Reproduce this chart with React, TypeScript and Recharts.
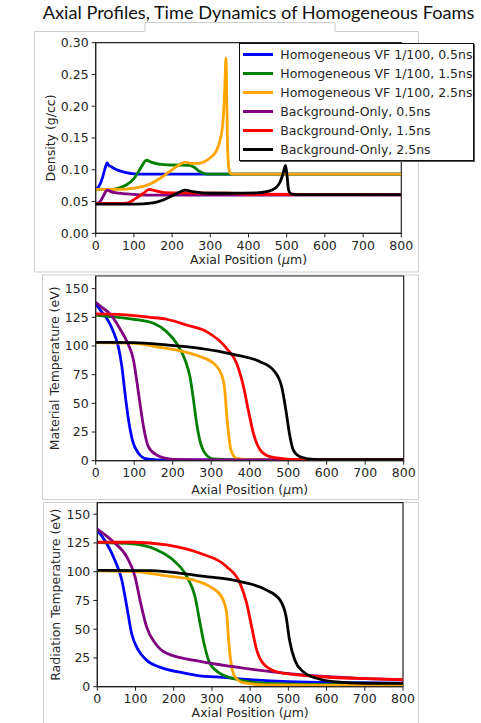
import { LineChart, Line, XAxis, YAxis, Legend, ReferenceArea } from 'recharts';

type Pt = [number, number];

// ---- data ----
const seriesNames = [
  'Homogeneous VF 1/100, 0.5ns',
  'Homogeneous VF 1/100, 1.5ns',
  'Homogeneous VF 1/100, 2.5ns',
  'Background-Only, 0.5ns',
  'Background-Only, 1.5ns',
  'Background-Only, 2.5ns',
];

const xTicks = [0, 100, 200, 300, 400, 500, 600, 700, 800];
const densityTicks = [0, 0.05, 0.1, 0.15, 0.2, 0.25, 0.3];
const tempTicks = [0, 25, 50, 75, 100, 125, 150];

// density (g/cc) vs axial position (um)
const densHomog05: Pt[] = [[0, 0.070], [6, 0.072], [12, 0.078], [18, 0.088], [24, 0.101], [30, 0.111], [34, 0.107], [40, 0.105], [55, 0.100], [80, 0.0955], [100, 0.0935], [130, 0.093], [800, 0.093]];
const densHomog15: Pt[] = [[0, 0.069], [40, 0.069], [60, 0.071], [80, 0.076], [100, 0.086], [116, 0.101], [133, 0.115], [145, 0.112], [165, 0.109], [200, 0.1075], [245, 0.107], [258, 0.104], [270, 0.098], [285, 0.094], [300, 0.093], [800, 0.093]];
const densHomog25: Pt[] = [[0, 0.069], [60, 0.069], [100, 0.071], [140, 0.077], [170, 0.087], [200, 0.100], [222, 0.109], [235, 0.112], [250, 0.110], [270, 0.110], [285, 0.113], [300, 0.119], [315, 0.129], [325, 0.145], [333, 0.175], [338, 0.23], [341, 0.276], [343, 0.22], [345, 0.14], [348, 0.105], [352, 0.095], [360, 0.093], [800, 0.093]];
const densBkg05: Pt[] = [[0, 0.047], [8, 0.048], [15, 0.053], [22, 0.061], [30, 0.068], [38, 0.066], [50, 0.064], [80, 0.062], [115, 0.0605], [150, 0.060], [800, 0.060]];
const densBkg15: Pt[] = [[0, 0.047], [60, 0.047], [85, 0.048], [105, 0.055], [125, 0.063], [140, 0.069], [155, 0.067], [180, 0.064], [250, 0.0635], [350, 0.063], [400, 0.0615], [800, 0.061]];
const densBkg25: Pt[] = [[0, 0.046], [100, 0.046], [150, 0.048], [175, 0.052], [200, 0.059], [220, 0.065], [234, 0.068], [255, 0.0655], [290, 0.063], [350, 0.063], [420, 0.0635], [450, 0.066], [470, 0.071], [482, 0.080], [490, 0.093], [497, 0.107], [501, 0.09], [505, 0.068], [512, 0.062], [525, 0.061], [800, 0.061]];

// material temperature (eV)
const matHomog05: Pt[] = [[0, 137], [15, 130], [29, 124], [46, 112.5], [59, 99], [68, 82], [76, 59], [85, 36], [96, 17], [111, 6.5], [132, 1.5], [160, 0.8], [800, 0.8]];
const matHomog15: Pt[] = [[0, 127], [37, 125.6], [98, 123.3], [150, 119.8], [184, 112.5], [210, 102.3], [232, 88], [245, 73], [254, 53], [262, 33], [271, 17], [284, 6.5], [306, 1.5], [350, 0.8], [800, 0.8]];
const matHomog25: Pt[] = [[0, 103], [98, 102.3], [167, 98.8], [228, 95], [271, 90.7], [306, 85], [327, 75], [336, 59], [340, 41], [345, 24], [351, 9.5], [366, 2], [400, 0.8], [800, 0.8]];
const matBkg05: Pt[] = [[0, 138], [15, 134], [37, 128], [63, 115], [85, 101], [98, 88], [106.5, 70], [115, 50], [124, 30], [137, 12], [158, 5], [202, 1.2], [260, 0.8], [800, 0.8]];
const matBkg15: Pt[] = [[0, 128], [55, 127.6], [141, 125], [184, 123.3], [236, 118.3], [288, 112.5], [340, 98], [366, 85], [384, 64.5], [396.5, 44], [409.5, 24], [427, 9.5], [453, 3.5], [505, 1.2], [550, 0.8], [800, 0.8]];
const matBkg25: Pt[] = [[0, 103.2], [98, 102.9], [184, 100.9], [271, 98], [358, 92.7], [427, 86.3], [461.5, 79], [483, 64.5], [494, 44], [503, 24], [513, 9.5], [531, 3.5], [565, 1.2], [600, 0.9], [800, 0.9]];

// radiation temperature (eV)
const radHomog05: Pt[] = [[0, 136], [24, 125], [46, 110], [64, 93], [77, 70], [90, 46], [107, 32], [129, 23], [164, 17], [225, 12], [268, 9.5], [312, 8.5], [400, 6.2], [500, 4.5], [650, 3.5], [800, 3]];
const radHomog15: Pt[] = [[0, 125.3], [94, 124.2], [155, 119], [199, 110], [234, 96], [256, 78], [269, 55], [279, 38], [295, 20], [321, 11.6], [373.5, 5.8], [443, 2.9], [550, 2], [800, 1.5]];
const radHomog25: Pt[] = [[0, 100.7], [94, 100.1], [181.5, 96.3], [251, 92.8], [295, 87], [325.5, 78], [338.6, 64], [343, 43.5], [349, 23], [360, 8.7], [382, 3.5], [443, 1.5], [800, 1]];
const radBkg05: Pt[] = [[0, 137], [42, 126], [77, 113], [98.6, 96], [112, 75], [129, 52], [151, 38], [181.5, 29], [269, 22], [356, 17.4], [443, 13.5], [530, 10.5], [618, 8.5], [700, 7], [800, 6]];
const radBkg15: Pt[] = [[0, 125.6], [94, 125.6], [181.5, 123.3], [269, 116], [338.6, 104.4], [373.5, 90], [391, 72.5], [404, 52], [417, 32], [434.5, 20], [469, 13], [530, 10], [618, 8], [705, 7], [800, 6.2]];
const radBkg25: Pt[] = [[0, 101.2], [138, 101], [269, 96.3], [373.5, 91.4], [443, 84], [478, 75.4], [494, 61], [503, 40.6], [517, 23], [539, 13], [574, 7.3], [618, 4.4], [705, 3], [800, 2.9]];

// ---- styles ----
const colors = ['#0000ff', '#008000', '#ffa500', '#800080', '#ff0000', '#000000'];
const FONT = '"DejaVu Sans", sans-serif';
const TEXT = '#262626';
const tickStyle = { fontSize: 12.5, fontFamily: FONT, fill: TEXT };

const toRows = (pts: Pt[]) => pts.map(([x, y]) => ({ x, y }));

const xAxisLabel = (dy: number) => (props: any) => {
  const vb = props.viewBox;
  return (
    <text x={vb.x + vb.width / 2} y={vb.y + dy} textAnchor="middle" fontSize={12.5} fontFamily={FONT} fill={TEXT}>
      Axial Position (<tspan fontStyle="italic">μ</tspan>m)
    </text>
  );
};

const yAxisLabel = (text: string, cx: number) => (props: any) => {
  const vb = props.viewBox;
  const cy = vb.y + vb.height / 2;
  return (
    <text x={cx} y={cy} transform={`rotate(-90, ${cx}, ${cy})`} textAnchor="middle" dominantBaseline="central"
      fontSize={12.5} fontFamily={FONT} fill={TEXT}>
      {text}
    </text>
  );
};

// legend keeps the plotting order (recharts would sort it by name)
function LegendBox() {
  return (
    <div style={{ background: '#fff', border: '1.5px solid #111', boxShadow: '1px 1px 0 #555', boxSizing: 'border-box', width: '100%', height: '100%', paddingTop: 1.5 }}>
      {seriesNames.map((name, i) => (
        <div key={name} style={{ display: 'flex', alignItems: 'center', height: 18.9 }}>
          <div style={{ marginLeft: 3, width: 30, height: 3, background: colors[i] }} />
          <span style={{ marginLeft: 7, fontSize: 12.5, fontFamily: FONT, color: TEXT, whiteSpace: 'nowrap' }}>{name}</span>
        </div>
      ))}
    </div>
  );
}

interface PanelProps {
  top: number;
  height: number;
  margin: { top: number; right: number; bottom: number; left: number };
  series: Pt[][];
  yDomain: [number, number];
  yTicks: number[];
  yFmt?: (v: number) => string;
  yLabel: string;
  yLabelX: number;
  xLabelDy: number;
  showLegend?: boolean;
}

function Panel({ top, height, margin, series, yDomain, yTicks, yFmt, yLabel, yLabelX, xLabelDy, showLegend }: PanelProps) {
  return (
    <div style={{ position: 'absolute', left: 0, top }}>
      <LineChart width={481} height={height} margin={margin}>
        <XAxis dataKey="x" type="number" domain={[0, 800]} ticks={xTicks} allowDataOverflow height={30}
          tick={tickStyle} tickSize={4} tickMargin={3.6} stroke="#222" label={xAxisLabel(xLabelDy)} />
        <YAxis type="number" domain={yDomain} ticks={yTicks} allowDataOverflow width={60}
          tick={tickStyle} tickSize={4} tickMargin={3} stroke="#222" tickFormatter={yFmt}
          label={yAxisLabel(yLabel, yLabelX)} />
        {series.map((s, i) => (
          <Line key={seriesNames[i]} data={toRows(s)} dataKey="y" name={seriesNames[i]} type="monotone"
            stroke={colors[i]} strokeWidth={2.8} dot={false} activeDot={false} isAnimationActive={false} />
        ))}
        <ReferenceArea x1={0} x2={800} y1={yDomain[0]} y2={yDomain[1]} fill="none" stroke="#222" strokeWidth={1.2} ifOverflow="visible" />
        {showLegend && (
          <Legend layout="horizontal" verticalAlign="middle" align="center" content={<LegendBox />}
            wrapperStyle={{ left: 239.3, top: 42.7, width: 234.7, height: 118 }} />
        )}
      </LineChart>
    </div>
  );
}

export default function App() {
  return (
    <div style={{ position: 'absolute', left: 0, top: 0, width: 481, height: 723, background: '#fff', overflow: 'hidden' }}>
      <svg width={481} height={723} style={{ position: 'absolute', left: 0, top: 0 }}>
        <path d="M34.5 272 V31.5 H145 V22.5 H335 V31.5 H418.5 V272 Z" fill="none" stroke="#cfcfcf" />
        <rect x={42.5} y={275} width={376} height={224.5} fill="none" stroke="#cfcfcf" />
        <path d="M43.5 724 V502.5 H418.5 V724" fill="none" stroke="#cfcfcf" />
      </svg>
      <div style={{ position: 'absolute', left: 0, width: 517, top: 1, textAlign: 'center', fontFamily: 'Lato, sans-serif', fontSize: 18.2, color: '#111', whiteSpace: 'nowrap' }}>
        Axial Profiles, Time Dynamics of Homogeneous Foams
      </div>
      <Panel top={0} height={272} margin={{ top: 42.7, right: 79.7, bottom: 8.7, left: 35.7 }}
        series={[densHomog05, densHomog15, densHomog25, densBkg05, densBkg15, densBkg25]}
        yDomain={[0, 0.3]} yTicks={densityTicks} yFmt={(v) => v.toFixed(2)}
        yLabel="Density (g/cc)" yLabelX={50} xLabelDy={31} showLegend />
      <Panel top={262} height={240} margin={{ top: 14, right: 77.3, bottom: 11.3, left: 35.7 }}
        series={[matHomog05, matHomog15, matHomog25, matBkg05, matBkg15, matBkg25]}
        yDomain={[0, 161]} yTicks={tempTicks}
        yLabel="Material Temperature (eV)" yLabelX={54.3} xLabelDy={33.3} />
      <Panel top={492} height={231} margin={{ top: 10.7, right: 78, bottom: 6.3, left: 37.3 }}
        series={[radHomog05, radHomog15, radHomog25, radBkg05, radBkg15, radBkg25]}
        yDomain={[0, 160]} yTicks={tempTicks}
        yLabel="Radiation Temperature (eV)" yLabelX={56} xLabelDy={30.6} />
    </div>
  );
}
